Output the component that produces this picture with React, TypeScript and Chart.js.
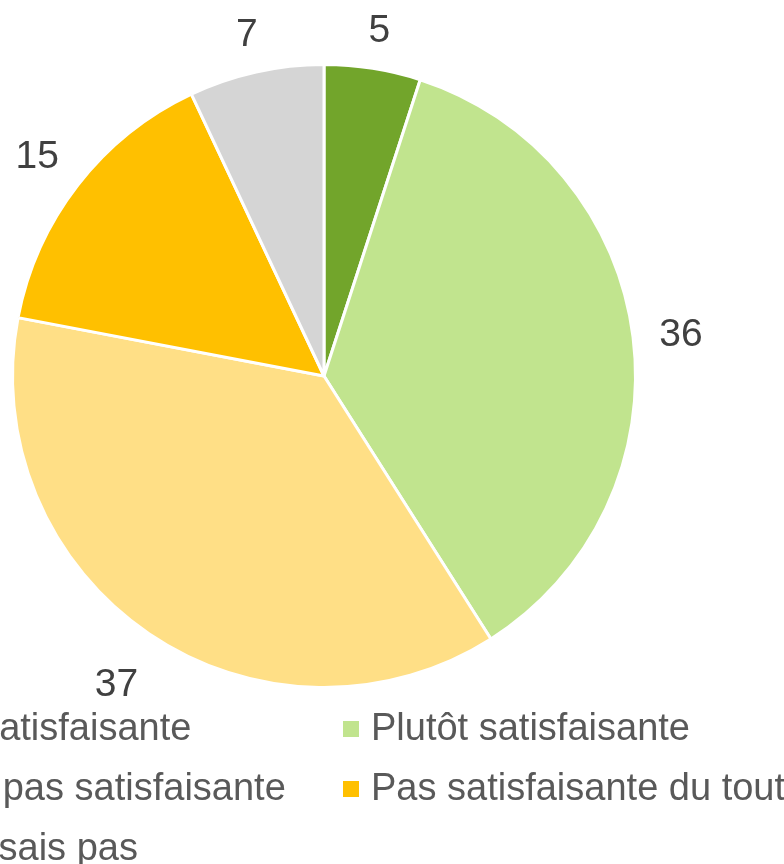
import React, { useEffect, useRef } from "react";
import { Chart, registerables } from "chart.js";

Chart.register(...registerables);

const categories = [
  "Très satisfaisante",
  "Plutôt satisfaisante",
  "Plutôt pas satisfaisante",
  "Pas satisfaisante du tout",
  "Je ne sais pas",
];
const values = [5, 36, 37, 15, 7];
const colors = ["#72A52B", "#C1E48E", "#FFDF86", "#FFC000", "#D5D5D5"];

const FONT = '"Liberation Sans", Arial, sans-serif';

const labelPlugin = {
  id: "outLabels",
  afterDatasetsDraw(chart: any) {
    const ctx = chart.ctx;
    const meta = chart.getDatasetMeta(0);
    ctx.save();
    ctx.font = `39px ${FONT}`;
    ctx.fillStyle = "#404040";
    ctx.textAlign = "center";
    ctx.textBaseline = "middle";
    meta.data.forEach((arc: any, i: number) => {
      const { x, y, startAngle, endAngle, outerRadius } = arc.getProps(
        ["x", "y", "startAngle", "endAngle", "outerRadius"],
        true
      );
      const mid = (startAngle + endAngle) / 2;
      const cx = Math.cos(mid);
      const cy = Math.sin(mid);
      const txt = String(chart.data.datasets[0].data[i]);
      const w = ctx.measureText(txt).width;
      const h = cy > 0 ? 50 : 30;
      const d = outerRadius + 25 + Math.abs(cx) * w / 2 + Math.abs(cy) * h / 2;
      ctx.fillText(txt, x + cx * d, y + cy * d + 4);
    });
    ctx.restore();
  },
};

const legendPlugin = {
  id: "customLegend",
  afterDraw(chart: any) {
    const ctx = chart.ctx;
    ctx.save();
    ctx.font = `38px ${FONT}`;
    ctx.textBaseline = "middle";
    ctx.textAlign = "left";
    const col0 = 95;
    const colW = 476;
    const row0 = 729;
    const rowH = 60;
    categories.forEach((c, i) => {
      const col = i % 2;
      const row = Math.floor(i / 2);
      const tx = col0 + col * colW;
      const ty = row0 + row * rowH;
      ctx.fillStyle = colors[i];
      ctx.fillRect(tx - 28, ty - 8, 16, 16);
      ctx.fillStyle = "#595959";
      ctx.fillText(c, tx, ty + 1);
    });
    ctx.restore();
  },
};

export default function App() {
  const ref = useRef<HTMLCanvasElement | null>(null);
  useEffect(() => {
    if (!ref.current) return;
    const chart = new Chart(ref.current, {
      type: "pie",
      data: {
        labels: categories,
        datasets: [
          {
            data: values,
            backgroundColor: colors,
            borderColor: "#FFFFFF",
            borderWidth: 3,
          },
        ],
      },
      options: {
        responsive: false,
        animation: false,
        layout: { padding: { left: 211, right: 147, top: 63, bottom: 175 } },
        plugins: {
          legend: { display: false },
          tooltip: { enabled: false },
        },
      },
      plugins: [labelPlugin, legendPlugin],
    });
    return () => chart.destroy();
  }, []);
  return (
    <div style={{ position: "absolute", left: -200, top: 0, width: 984, height: 864, background: "#fff" }}>
      <canvas ref={ref} width={984} height={864} />
    </div>
  );
}
